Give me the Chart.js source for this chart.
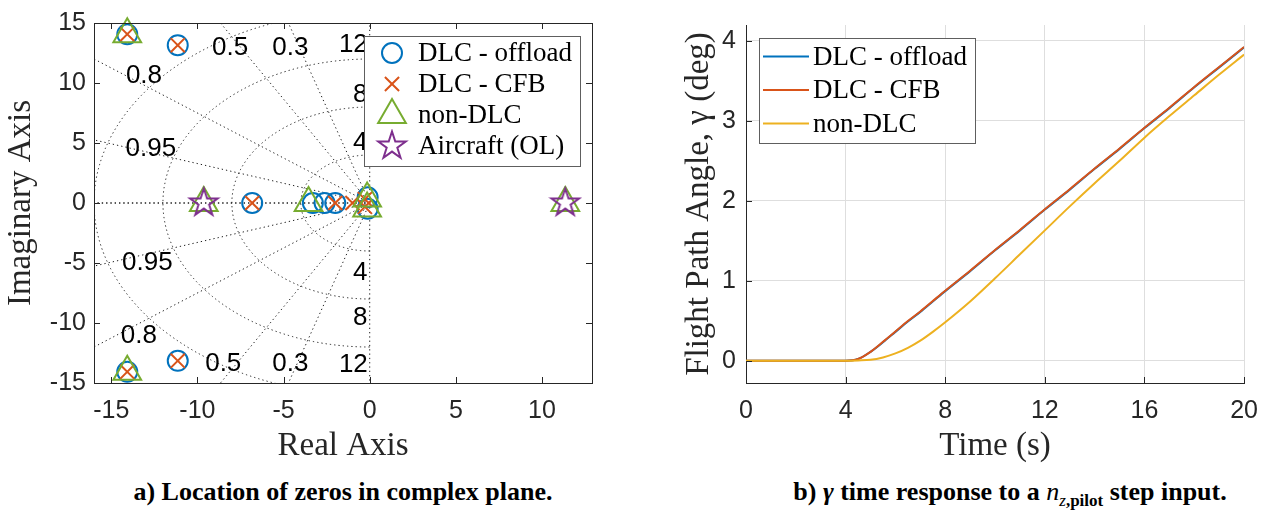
<!DOCTYPE html>
<html>
<head>
<meta charset="utf-8">
<script src="https://cdn.jsdelivr.net/npm/chart.js@4.4.1/dist/chart.umd.min.js"></script>
<style>
  body { margin: 0; width: 1271px; height: 516px; background: #fff; position: relative; overflow: hidden; }
  .box { position: absolute; top: 0; height: 470px; }
  .cap { position: absolute; top: 477px; font: bold 26px 'Liberation Serif', serif; color: #000; white-space: nowrap; transform: translateX(-50%); }
  .cap sub { font-size: 17px; }
</style>
</head>
<body>
<div class="box" style="left:0;width:620px"><canvas id="zerosPlot"></canvas></div>
<div class="box" style="left:640px;width:631px"><canvas id="gammaPlot"></canvas></div>
<div class="cap" style="left:343px">a) Location of zeros in complex plane.</div>
<div class="cap" style="left:1010px">b) <i>γ</i> time response to a <i style="font-weight:normal">n</i><sub><i style="font-weight:normal">z</i>,pilot</sub> step input.</div>
<script>
// zeros of the transfer function, real and imaginary parts
const offloadRe = [-14.07, -14.07, -11.14, -11.14, -6.82, -3.3, -2.62, -2.0, -0.12, -0.12];
const offloadIm = [14.07, -14.07, 13.15, -13.15, 0, 0, 0, 0, 0.48, -0.48];
const cfbRe = [-14.07, -14.07, -11.14, -11.14, -6.82, -2.0, -1.0, -0.28, -0.28];
const cfbIm = [14.07, -14.07, 13.15, -13.15, 0, 0, 0, 0.32, -0.32];
const nonDlcRe = [-14.07, -14.07, -9.63, -3.55, -0.15, -0.15, 11.35];
const nonDlcIm = [14.07, -14.07, 0, 0, 0.38, -0.45, 0];
const aircraftRe = [-9.63, 11.35];
const aircraftIm = [0, 0];

const realTicks = [-15, -10, -5, 0, 5, 10];
const imagTicks = [-15, -10, -5, 0, 5, 10, 15];

// s-plane grid: damping ratios and natural frequencies
const dampingRatios = [0, 0.3, 0.5, 0.8, 0.95, 1];
const natFreqs = [4, 8, 12, 16];
const gridLabels = [
  { text: '0.5', re: -8.1, im: 12.9 }, { text: '0.3', re: -4.6, im: 12.9 },
  { text: '0.8', re: -13.1, im: 10.6 }, { text: '0.95', re: -12.7, im: 4.5 },
  { text: '12', re: -0.95, im: 13.2 }, { text: '8', re: -0.55, im: 9.0 }, { text: '4', re: -0.55, im: 5.0 },
  { text: '0.95', re: -12.9, im: -5.0 }, { text: '0.8', re: -13.4, im: -11.1 },
  { text: '0.5', re: -8.5, im: -13.4 }, { text: '0.3', re: -4.6, im: -13.4 },
  { text: '12', re: -0.95, im: -13.5 }, { text: '8', re: -0.55, im: -9.6 }, { text: '4', re: -0.55, im: -5.8 }
];

// gamma step response (deg)
const timeS = [0, 1, 2, 3, 4, 4.5, 5, 5.5, 6, 6.5, 7, 7.5, 8, 9, 10, 11, 12, 13, 14, 15, 16, 17, 18, 19, 20];
const gammaOffload = [0, 0, 0, 0, 0, 0.02, 0.11, 0.23, 0.36, 0.49, 0.61, 0.74, 0.87, 1.12, 1.38, 1.63, 1.89, 2.14, 2.40, 2.65, 2.91, 3.16, 3.42, 3.67, 3.92];
const gammaCfb = [0, 0, 0, 0, 0, 0.02, 0.11, 0.235, 0.365, 0.495, 0.615, 0.745, 0.875, 1.125, 1.385, 1.635, 1.895, 2.145, 2.405, 2.655, 2.915, 3.165, 3.425, 3.675, 3.925];
const gammaNonDlc = [0, 0, 0, 0, 0, 0.003, 0.01, 0.04, 0.09, 0.16, 0.25, 0.36, 0.48, 0.74, 1.03, 1.33, 1.63, 1.93, 2.22, 2.50, 2.79, 3.06, 3.32, 3.58, 3.83];
const timeTicks = [0, 4, 8, 12, 16, 20];
const gammaTicks = [0, 1, 2, 3, 4];

const blue = '#0072BD', orange = '#D95319', yellow = '#EDB120', green = '#77AC30', purple = '#7E2F8E';
const axisColor = '#262626';
const legendFont = "27px 'Liberation Serif'";
const titleFont = { family: "'Liberation Serif'", size: 33 };

Chart.defaults.font.family = "'Liberation Sans', sans-serif";
Chart.defaults.color = axisColor;

// hollow five-point star marker
function starMarker(color) {
  const c = document.createElement('canvas');
  c.width = 34; c.height = 34;
  const g = c.getContext('2d');
  g.beginPath();
  for (let i = 0; i < 10; i++) {
    const r = i % 2 ? 5.6 : 14.5;
    const a = -Math.PI / 2 + i * Math.PI / 5;
    g.lineTo(17 + r * Math.cos(a), 17 + r * Math.sin(a));
  }
  g.closePath();
  g.strokeStyle = color;
  g.lineWidth = 2;
  g.stroke();
  return c;
}

function pts(re, im) {
  return re.map((v, i) => ({ x: v, y: im[i] }));
}

function fixTicks(values) {
  return scale => { scale.ticks = values.map(v => ({ value: v })); };
}

function drawInsideTicks(chart, sides, len) {
  const { ctx, chartArea: a, scales } = chart;
  ctx.save();
  ctx.strokeStyle = axisColor;
  ctx.lineWidth = 1;
  ctx.beginPath();
  scales.x.ticks.forEach(t => {
    const px = Math.round(scales.x.getPixelForValue(t.value)) + 0.5;
    if (sides.includes('bottom')) { ctx.moveTo(px, a.bottom); ctx.lineTo(px, a.bottom - len); }
    if (sides.includes('top')) { ctx.moveTo(px, a.top); ctx.lineTo(px, a.top + len); }
  });
  scales.y.ticks.forEach(t => {
    const py = Math.round(scales.y.getPixelForValue(t.value)) + 0.5;
    if (sides.includes('left')) { ctx.moveTo(a.left, py); ctx.lineTo(a.left + len, py); }
    if (sides.includes('right')) { ctx.moveTo(a.right, py); ctx.lineTo(a.right - len, py); }
  });
  ctx.stroke();
  ctx.restore();
}

function drawLegend(chart, o) {
  const { ctx, chartArea: a } = chart;
  const items = chart.data.datasets;
  ctx.save();
  ctx.font = legendFont;
  const textW = Math.max(...items.map(d => ctx.measureText(d.label).width));
  const w = Math.round(o.textX + textW + o.padRight);
  const h = Math.round(o.padTop + o.rowH * (items.length - 1) + o.padBottom);
  const x0 = Math.round(o.right ? a.right - o.margin - w : a.left + o.margin);
  const y0 = Math.round(a.top + o.marginTop);
  ctx.fillStyle = '#fff';
  ctx.fillRect(x0, y0, w, h);
  ctx.strokeStyle = '#5e5e5e';
  ctx.lineWidth = 1;
  ctx.strokeRect(x0 + 0.5, y0 + 0.5, w, h);
  items.forEach((d, i) => {
    const cy = y0 + o.padTop + i * o.rowH;
    ctx.strokeStyle = d.borderColor;
    ctx.fillStyle = 'rgba(0,0,0,0)';
    ctx.lineWidth = 2;
    if (o.lines) {
      ctx.beginPath();
      ctx.moveTo(x0 + o.lineFrom, cy);
      ctx.lineTo(x0 + o.lineTo, cy);
      ctx.stroke();
    } else {
      Chart.helpers.drawPoint(ctx, { pointStyle: d.pointStyle, radius: d.pointRadius, rotation: 0, borderWidth: 2 }, x0 + o.markX, cy);
    }
    ctx.fillStyle = '#000';
    ctx.textBaseline = 'middle';
    ctx.textAlign = 'left';
    ctx.fillText(d.label, x0 + o.textX, cy + 1);
  });
  ctx.restore();
}

// damping rays, natural-frequency arcs and their labels
const sGrid = {
  id: 'sGrid',
  beforeDatasetsDraw(chart) {
    const { ctx, chartArea: a, scales: { x, y } } = chart;
    const ox = x.getPixelForValue(0), oy = y.getPixelForValue(0);
    ctx.save();
    ctx.beginPath();
    ctx.rect(a.left, a.top, a.right - a.left, a.bottom - a.top);
    ctx.clip();
    ctx.strokeStyle = '#1e1e1e';
    ctx.lineWidth = 1;
    ctx.setLineDash([1.3, 3]);
    dampingRatios.forEach(z => {
      const s = Math.sqrt(1 - z * z);
      [1, -1].forEach(sign => {
        ctx.beginPath();
        ctx.moveTo(ox, oy);
        ctx.lineTo(x.getPixelForValue(-40 * z), y.getPixelForValue(sign * 40 * s));
        ctx.stroke();
      });
    });
    natFreqs.forEach(wn => {
      const rx = Math.abs(x.getPixelForValue(wn) - ox);
      const ry = Math.abs(y.getPixelForValue(wn) - oy);
      ctx.beginPath();
      ctx.ellipse(ox, oy, rx, ry, 0, Math.PI / 2, Math.PI * 1.5);
      ctx.stroke();
    });
    ctx.setLineDash([]);
    ctx.fillStyle = '#000';
    ctx.font = "26px 'Liberation Sans'";
    ctx.textAlign = 'center';
    ctx.textBaseline = 'middle';
    gridLabels.forEach(l => ctx.fillText(l.text, x.getPixelForValue(l.re), y.getPixelForValue(l.im)));
    ctx.restore();
  },
  afterDraw(chart) {
    const { ctx, chartArea: a } = chart;
    ctx.save();
    ctx.strokeStyle = axisColor;
    ctx.lineWidth = 1;
    ctx.strokeRect(Math.round(a.left) + 0.5, Math.round(a.top) + 0.5, Math.round(a.right - a.left), Math.round(a.bottom - a.top));
    ctx.restore();
    drawInsideTicks(chart, ['top', 'bottom', 'left', 'right'], 6);
    drawLegend(chart, { right: true, margin: 12, marginTop: 13, padTop: 17, padBottom: 20, rowH: 31, markX: 28, textX: 54, padRight: 8 });
  }
};

const gammaDecor = {
  id: 'gammaDecor',
  afterDraw(chart) {
    drawInsideTicks(chart, ['bottom', 'left'], 6);
    drawLegend(chart, { right: false, lines: true, margin: 12.5, marginTop: 13, padTop: 18.5, padBottom: 19, rowH: 33.5, lineFrom: 4, lineTo: 50, textX: 54, padRight: 8 });
  }
};

const zerosPlot = new Chart(document.getElementById('zerosPlot'), {
  type: 'scatter',
  data: {
    datasets: [
      { label: 'DLC - offload', data: pts(offloadRe, offloadIm), pointStyle: 'circle', pointRadius: 10, borderColor: blue, backgroundColor: 'rgba(0,0,0,0)', borderWidth: 2, order: 4, clip: false },
      { label: 'DLC - CFB', data: pts(cfbRe, cfbIm), pointStyle: 'crossRot', pointRadius: 10, borderColor: orange, backgroundColor: 'rgba(0,0,0,0)', borderWidth: 2, order: 3, clip: false },
      { label: 'non-DLC', data: pts(nonDlcRe, nonDlcIm), pointStyle: 'triangle', pointRadius: 16, borderColor: green, backgroundColor: 'rgba(0,0,0,0)', borderWidth: 2, order: 2, clip: false },
      { label: 'Aircraft (OL)', data: pts(aircraftRe, aircraftIm), pointStyle: starMarker(purple), pointRadius: 14, borderColor: purple, backgroundColor: 'rgba(0,0,0,0)', borderWidth: 2, order: 1, clip: false }
    ]
  },
  options: {
    responsive: true,
    maintainAspectRatio: false,
    animation: false,
    layout: { padding: { top: 15, right: 28, left: 0, bottom: 0 } },
    plugins: { legend: { display: false }, tooltip: { enabled: false } },
    scales: {
      x: {
        type: 'linear', min: -16, max: 12.9,
        afterBuildTicks: fixTicks(realTicks),
        afterFit: s => { s.height = 87; },
        grid: { display: false, drawTicks: false },
        border: { display: false },
        ticks: { font: { size: 25 }, padding: 13, maxRotation: 0 },
        title: { display: true, text: 'Real Axis', font: titleFont, padding: { top: 0, bottom: 4 } }
      },
      y: {
        type: 'linear', min: -15, max: 15,
        afterBuildTicks: fixTicks(imagTicks),
        afterFit: s => { s.width = 94; },
        grid: { display: false, drawTicks: false },
        border: { display: false },
        ticks: { font: { size: 25 }, padding: 8 },
        title: { display: true, text: 'Imaginary Axis', font: titleFont, padding: { top: 2, bottom: 0 } }
      }
    }
  },
  plugins: [sGrid]
});

const gammaPlot = new Chart(document.getElementById('gammaPlot'), {
  type: 'line',
  data: {
    datasets: [
      { label: 'DLC - offload', data: pts(timeS, gammaOffload), borderColor: blue, order: 3 },
      { label: 'DLC - CFB', data: pts(timeS, gammaCfb), borderColor: orange, order: 2 },
      { label: 'non-DLC', data: pts(timeS, gammaNonDlc), borderColor: yellow, order: 1 }
    ]
  },
  options: {
    responsive: true,
    maintainAspectRatio: false,
    animation: false,
    layout: { padding: { top: 15, right: 24, left: 0, bottom: 0 } },
    elements: {
      line: { borderWidth: 2, cubicInterpolationMode: 'monotone', fill: false },
      point: { radius: 0 }
    },
    plugins: { legend: { display: false }, tooltip: { enabled: false } },
    scales: {
      x: {
        type: 'linear', min: 0, max: 20,
        afterBuildTicks: fixTicks(timeTicks),
        afterFit: s => { s.height = 87; },
        grid: { color: '#dedede', drawTicks: false },
        border: { color: axisColor, width: 1 },
        ticks: { font: { size: 25 }, padding: 13, maxRotation: 0 },
        title: { display: true, text: 'Time (s)', font: titleFont, padding: { top: 0, bottom: 4 } }
      },
      y: {
        type: 'linear', min: -0.28, max: 4.2,
        afterBuildTicks: fixTicks(gammaTicks),
        afterFit: s => { s.width = 106; },
        grid: { color: '#dedede', drawTicks: false },
        border: { color: axisColor, width: 1 },
        ticks: { font: { size: 25 }, padding: 10 },
        title: { display: true, text: 'Flight Path Angle, γ (deg)', font: titleFont, padding: { top: 40, bottom: 0 } }
      }
    }
  },
  plugins: [gammaDecor]
});
</script>
</body>
</html>
